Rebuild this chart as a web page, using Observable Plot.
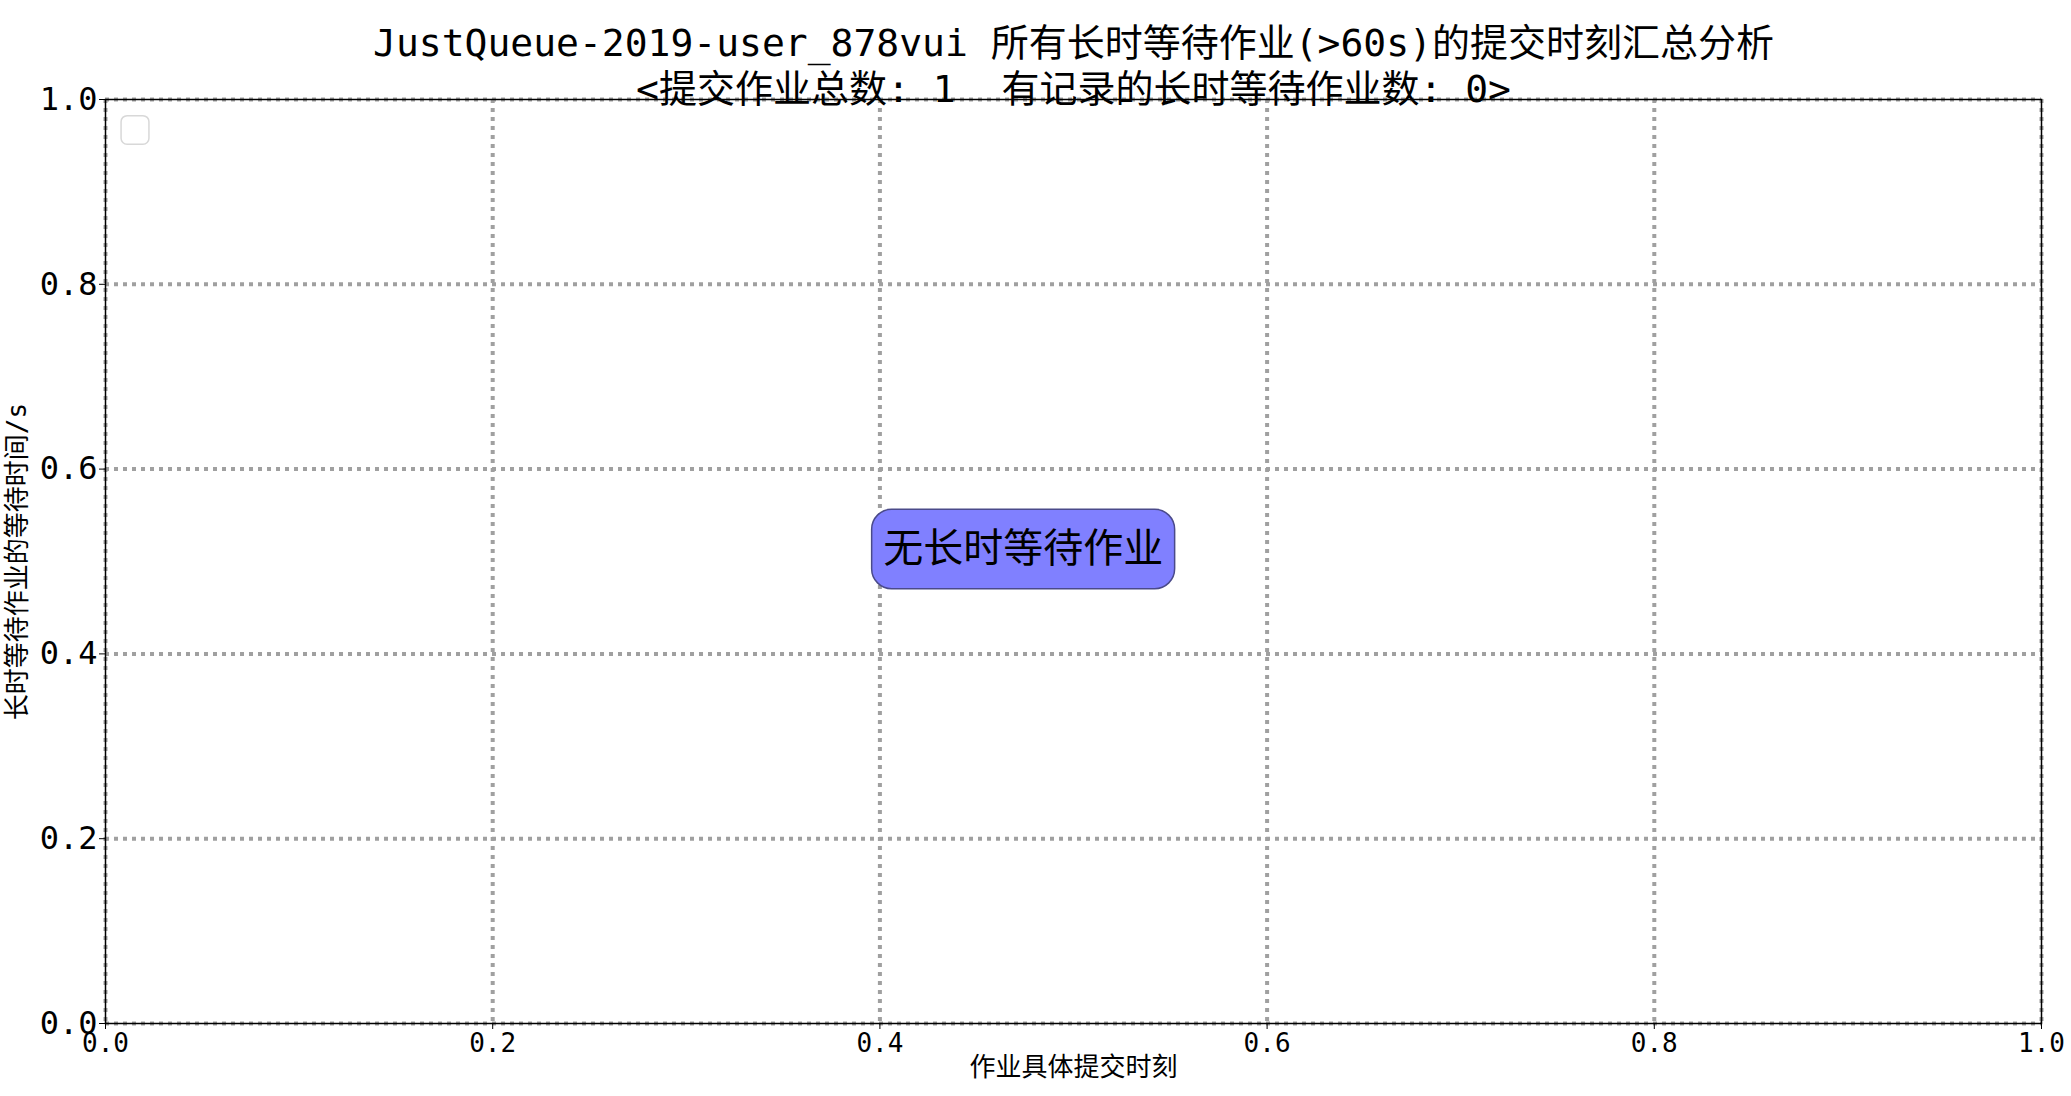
<!DOCTYPE html>
<html><head><meta charset="utf-8">
<script src="https://cdn.jsdelivr.net/npm/d3@7"></script>
<script src="https://cdn.jsdelivr.net/npm/@observablehq/plot@0.6"></script>
<style>body{margin:0;background:#fff}</style>
</head><body><div id="chart"></div>
<script>
const titleLines = ["JustQueue-2019-user_878vui 所有长时等待作业(>60s)的提交时刻汇总分析", "<提交作业总数: 1  有记录的长时等待作业数: 0>"];
const xTicks = [0, 0.2, 0.4, 0.6, 0.8, 1.0];
const yTicks = [0, 0.2, 0.4, 0.6, 0.8, 1.0];
const jobs = []; // no long-wait jobs recorded
const note = [{x: 0.474, y: 0.513, text: "无长时等待作业"}];
const noteBox = [{x1: 0.396, x2: 0.5525, y1: 0.47, y2: 0.556}];
const legendBox = [{x1: 0.0083, x2: 0.0227, y1: 0.951, y2: 0.982}];

const font = "'DejaVu Sans Mono', 'Noto Sans CJK SC', sans-serif";
const fmt = d => d.toFixed(1);

const chart = Plot.plot({
  width: 2071,
  height: 1096,
  marginTop: 99,
  marginLeft: 105,
  marginRight: 30,
  marginBottom: 73,
  style: {fontFamily: font, background: "#fff", color: "#000"},
  x: {domain: [0, 1], ticks: xTicks, tickFormat: fmt, label: null},
  y: {domain: [0, 1], ticks: yTicks, tickFormat: fmt, label: null},
  marks: [
    Plot.gridX(xTicks, {stroke: "#a0a0a0", strokeOpacity: 1, strokeWidth: 4, strokeDasharray: "4,5"}),
    Plot.gridY(yTicks, {stroke: "#a0a0a0", strokeOpacity: 1, strokeWidth: 4, strokeDasharray: "4,5"}),
    Plot.frame({stroke: "#000", strokeWidth: 1.5}),
    Plot.axisX({ticks: xTicks, tickFormat: fmt, fontSize: 26, tickSize: 6, tickPadding: 4, label: null}),
    Plot.axisY({ticks: yTicks, tickFormat: fmt, fontSize: 32, tickSize: 6, tickPadding: 2, label: null}),
    Plot.dot(jobs, {x: "time", y: "wait"}),
    Plot.rect(legendBox, {x1: "x1", x2: "x2", y1: "y1", y2: "y2", fill: "#fff", stroke: "#d8d8d8", strokeWidth: 1.5, rx: 6}),
    Plot.rect(noteBox, {x1: "x1", x2: "x2", y1: "y1", y2: "y2", fill: "#8080ff", stroke: "#4a4a8a", strokeWidth: 1.5, rx: 20}),
    Plot.text(note, {x: "x", y: "y", text: "text", fontSize: 40, fill: "#000"}),
    Plot.text([titleLines[0]], {frameAnchor: "top", dy: -70, fontSize: 38, text: d => d}),
    Plot.text([titleLines[1]], {frameAnchor: "top", dy: -24, fontSize: 38, text: d => d}),
    Plot.text(["作业具体提交时刻"], {frameAnchor: "bottom", dy: 52, fontSize: 26, text: d => d}),
    Plot.text(["长时等待作业的等待时间/s"], {frameAnchor: "left", dx: -88, rotate: -90, textAnchor: "middle", fontSize: 26, text: d => d})
  ]
});
document.getElementById("chart").append(chart);
</script></body></html>
